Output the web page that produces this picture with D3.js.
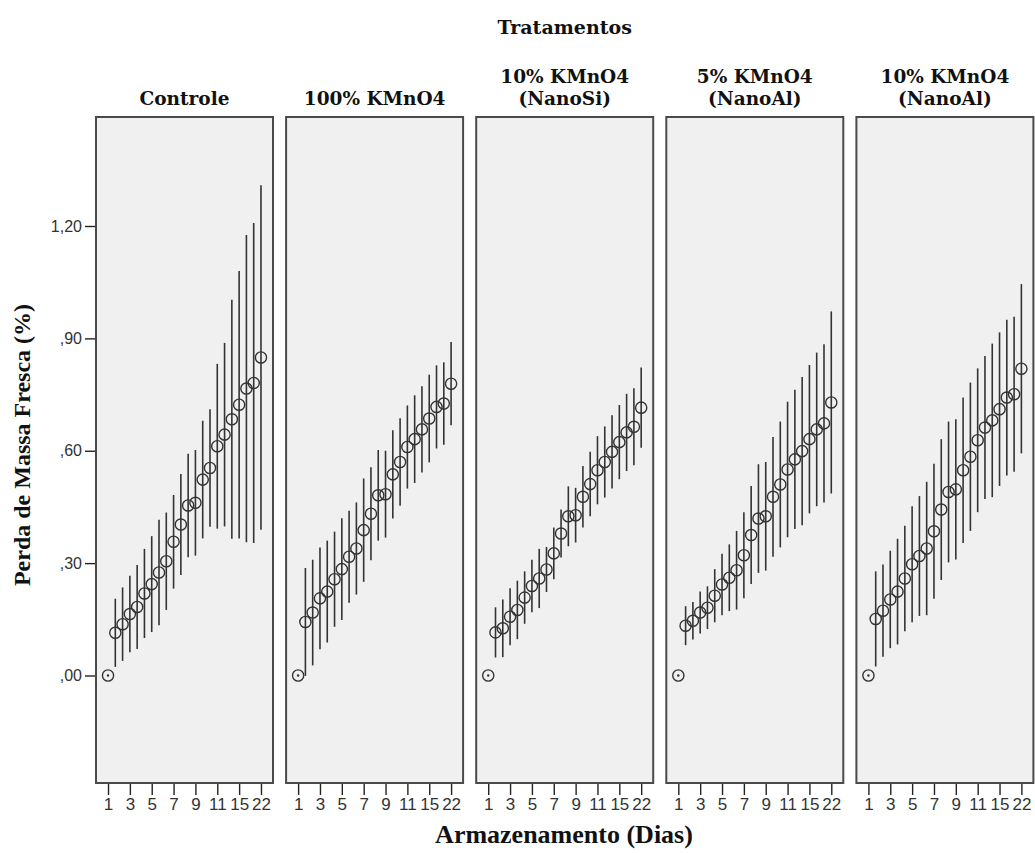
<!DOCTYPE html>
<html><head><meta charset="utf-8">
<script src="https://cdn.jsdelivr.net/npm/d3@7"></script>
<style>body{margin:0;background:#fff}svg{display:block}</style>
</head><body>
<script>
const treatments = ["Controle", "100% KMnO4", "10% KMnO4\n(NanoSi)", "5% KMnO4\n(NanoAl)", "10% KMnO4\n(NanoAl)"];
const categories = ["1","2","2b","3","4","4b","5","6","6b","7","8","8b","9","10","10b","11","12","12b","15","18","18b","22"];
const tickLabels = ["1","3","5","7","9","11","15","22"];
const tickCats = ["1","3","5","7","9","11","15","22"];
const yTicks = [0, 0.30, 0.60, 0.90, 1.20];
const yTickLabels = [",00", ",30", ",60", ",90", "1,20"];

const meanControle = [0, 0.114, 0.137, 0.164, 0.183, 0.219, 0.244, 0.275, 0.305, 0.357, 0.403, 0.454, 0.461, 0.523, 0.554, 0.612, 0.643, 0.684, 0.723, 0.766, 0.781, 0.849];
const errControle  = [0, 0.091, 0.098, 0.102, 0.112, 0.119, 0.128, 0.141, 0.130, 0.125, 0.135, 0.138, 0.141, 0.157, 0.157, 0.220, 0.245, 0.319, 0.357, 0.410, 0.427, 0.460];
const mean100 = [0, 0.143, 0.168, 0.206, 0.224, 0.257, 0.284, 0.317, 0.339, 0.388, 0.432, 0.481, 0.484, 0.537, 0.570, 0.610, 0.631, 0.657, 0.686, 0.717, 0.726, 0.779];
const err100  = [0, 0.144, 0.141, 0.136, 0.136, 0.127, 0.136, 0.123, 0.123, 0.138, 0.124, 0.121, 0.116, 0.118, 0.117, 0.111, 0.117, 0.115, 0.117, 0.111, 0.110, 0.111];
const mean10Si = [0, 0.115, 0.126, 0.157, 0.175, 0.208, 0.239, 0.259, 0.283, 0.326, 0.379, 0.425, 0.428, 0.477, 0.511, 0.548, 0.570, 0.597, 0.623, 0.649, 0.664, 0.715];
const err10Si  = [0, 0.067, 0.077, 0.076, 0.078, 0.070, 0.070, 0.079, 0.060, 0.069, 0.064, 0.080, 0.073, 0.082, 0.086, 0.091, 0.095, 0.098, 0.099, 0.103, 0.103, 0.107];
const mean5Al = [0, 0.133, 0.146, 0.168, 0.181, 0.213, 0.243, 0.261, 0.281, 0.321, 0.375, 0.419, 0.425, 0.477, 0.510, 0.550, 0.577, 0.599, 0.631, 0.657, 0.673, 0.729];
const err5Al  = [0, 0.052, 0.050, 0.056, 0.057, 0.071, 0.082, 0.089, 0.105, 0.115, 0.131, 0.145, 0.145, 0.160, 0.168, 0.181, 0.186, 0.198, 0.198, 0.205, 0.211, 0.243];
const mean10Al = [0, 0.151, 0.173, 0.203, 0.224, 0.259, 0.297, 0.319, 0.339, 0.385, 0.443, 0.490, 0.497, 0.548, 0.584, 0.628, 0.662, 0.681, 0.711, 0.742, 0.751, 0.819];
const err10Al  = [0, 0.127, 0.123, 0.130, 0.141, 0.141, 0.155, 0.160, 0.178, 0.180, 0.188, 0.188, 0.187, 0.194, 0.198, 0.192, 0.191, 0.205, 0.205, 0.208, 0.207, 0.226];

const means = [meanControle, mean100, mean10Si, mean5Al, mean10Al];
const errs = [errControle, err100, err10Si, err5Al, err10Al];

(function () {
const W = 1035, H = 853;
const svg = d3.select("body").append("svg").attr("width", W).attr("height", H);

const pTop = 117, pBottom = 783, left0 = 96, panelW = 177, gap = 13.1;
const right0 = left0 + 5 * panelW + 4 * gap;
const y = d3.scaleLinear().domain([-0.287, 1.491]).range([pBottom, pTop]);
const panels = d3.scaleBand().domain(treatments).range([left0, right0]).paddingInner(gap / (panelW + gap)).paddingOuter(0);

const serif = "'Liberation Serif','Times New Roman',serif";
const hdr = "'DejaVu Serif',serif";
const sans = "'Liberation Sans',Arial,sans-serif";

svg.append("text").attr("x", (left0 + right0) / 2).attr("y", 34)
  .attr("text-anchor", "middle").attr("font-family", hdr).attr("font-weight", "bold")
  .attr("font-size", 19).attr("fill", "#111").text("Tratamentos");

svg.append("text").attr("transform", `translate(30,445) rotate(-90)`)
  .attr("text-anchor", "middle").attr("font-family", serif).attr("font-weight", "bold")
  .attr("font-size", 24).attr("fill", "#111").text("Perda de Massa Fresca (%)");

svg.append("text").attr("x", 564).attr("y", 843)
  .attr("text-anchor", "middle").attr("font-family", serif).attr("font-weight", "bold")
  .attr("font-size", 26).attr("fill", "#111").text("Armazenamento (Dias)");

const yAxis = d3.axisLeft(y).tickValues(yTicks).tickSize(10).tickPadding(3)
  .tickFormat((d, i) => yTickLabels[i]);
const gy = svg.append("g").attr("transform", `translate(${left0 - 1},0)`).call(yAxis);
gy.select(".domain").remove();
gy.selectAll("line").attr("stroke", "#222").attr("stroke-width", 1.4);
gy.selectAll("text").attr("font-family", sans).attr("font-size", 16).attr("fill", "#333");

treatments.forEach((t, k) => {
  const x0 = panels(t);
  const x = d3.scalePoint().domain(categories).range([x0, x0 + panels.bandwidth()]).padding(1.65);
  const g = svg.append("g");
  g.append("rect").attr("x", x0).attr("y", pTop).attr("width", panels.bandwidth()).attr("height", pBottom - pTop)
    .attr("fill", "#f0f0f0").attr("stroke", "#4a4a4a").attr("stroke-width", 2);

  const lines = t.split("\n");
  const cx = x0 + panels.bandwidth() / 2;
  lines.forEach((ln, i) => {
    g.append("text").attr("x", cx).attr("y", lines.length === 1 ? 105 : 83 + i * 22)
      .attr("text-anchor", "middle").attr("font-family", hdr).attr("font-weight", "bold")
      .attr("font-size", 18.5).attr("fill", "#111").text(ln);
  });

  const xAxis = d3.axisBottom(x).tickValues(tickCats).tickSize(11).tickPadding(3)
    .tickFormat((d, i) => tickLabels[i]);
  const gx = g.append("g").attr("transform", `translate(0,${pBottom + 1})`).call(xAxis);
  gx.select(".domain").remove();
  gx.selectAll("line").attr("stroke", "#222").attr("stroke-width", 1.4);
  gx.selectAll("text").attr("font-family", sans).attr("font-size", 17).attr("fill", "#333");

  const m = means[k], e = errs[k];
  const data = categories.map((c, i) => ({ c, m: m[i], e: e[i] }));
  g.selectAll("line.err").data(data.filter(d => d.e > 0)).join("line").attr("class", "err")
    .attr("x1", d => x(d.c)).attr("x2", d => x(d.c))
    .attr("y1", d => y(d.m - d.e)).attr("y2", d => y(d.m + d.e))
    .attr("stroke", "#333").attr("stroke-width", 1.6);
  g.selectAll("circle.pt").data(data).join("circle").attr("class", "pt")
    .attr("cx", d => x(d.c)).attr("cy", d => y(d.m)).attr("r", 5.6)
    .attr("fill", "none").attr("stroke", "#333").attr("stroke-width", 1.4);
  g.selectAll("circle.dot").data(data.filter(d => d.e === 0)).join("circle").attr("class", "dot")
    .attr("cx", d => x(d.c)).attr("cy", d => y(d.m)).attr("r", 1.2).attr("fill", "#333");
});
})();
</script>
</body></html>
